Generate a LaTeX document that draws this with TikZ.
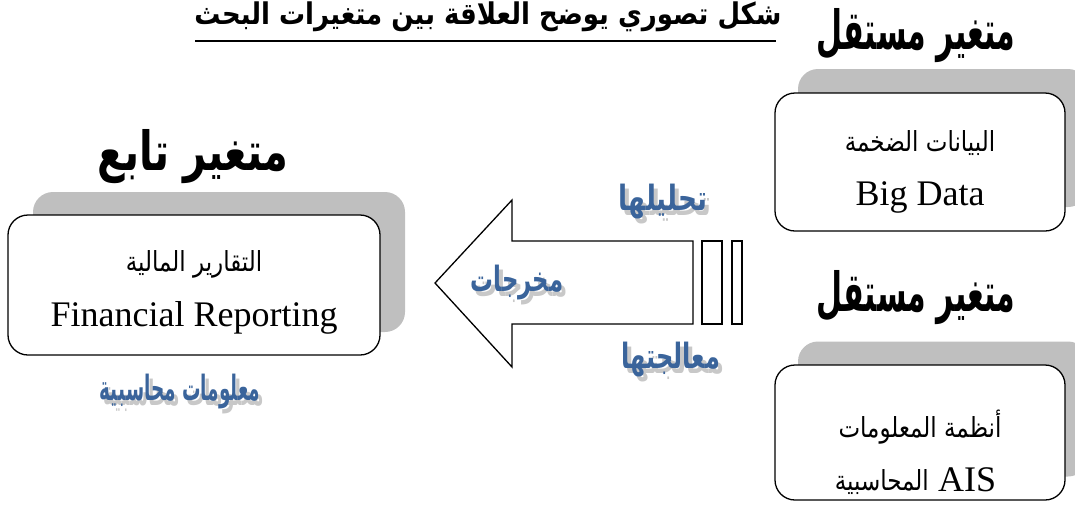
\documentclass[tikz,border=0pt]{standalone}
\usepackage{fontspec}
\usepackage{graphicx}
\setmainfont{Liberation Serif}
\newfontfamily\arabicfont[Script=Arabic]{DejaVu Sans}
\TeXXeTstate=1
\newcommand\artxt[1]{{\arabicfont\beginR #1\endR}}
\definecolor{bluetxt}{RGB}{58,100,155}
\definecolor{shadowgray}{RGB}{191,191,191}
\definecolor{txtshadow}{RGB}{200,200,200}
\tikzset{
  mainbox/.style={draw, line width=1.3pt, rounded corners=20pt, fill=white, inner sep=0pt},
  backbox/.style={fill=shadowgray, rounded corners=20pt, inner sep=0pt},
  heading/.style={font=\arabicfont\bfseries\fontsize{40}{48}\selectfont, inner sep=0pt},
  artext/.style={font=\arabicfont\fontsize{23}{28}\selectfont, inner sep=0pt},
  entext/.style={font=\fontsize{36}{40}\selectfont, inner sep=0pt},
  bluelabel/.style={font=\arabicfont\bfseries\fontsize{24}{28}\selectfont, text=bluetxt, inner sep=0pt},
  greylabel/.style={font=\arabicfont\bfseries\fontsize{24}{28}\selectfont, text=txtshadow, inner sep=0pt},
  outline/.style={draw, line width=1.3pt, fill=white}
}
\begin{document}
\begin{tikzpicture}[x=1pt,y=-1pt]
\useasboundingbox (0,0) rectangle (1075,507);
% title
\node[font=\arabicfont\bfseries\fontsize{26}{30}\selectfont, anchor=base, inner sep=0pt] (title) at (488,24) {\scalebox{1}[1.15]{\artxt{شكل تصوري يوضح العلاقة بين متغيرات البحث}}};
\coordinate (ulA) at (195,41);
\coordinate (ulB) at (776,41);
\draw[line width=2pt] (ulA) -- (ulB);

% right top
\node[heading] (h1) at (916,36) {\scalebox{0.75}[1.35]{\artxt{متغير مستقل}}};
\node[backbox, minimum width=290pt, minimum height=138pt] (bdS) at (943,138) {};
\node[mainbox, minimum width=290pt, minimum height=138pt] (bd) at (920,162) {};
\node[artext] (bd1) at (920,143) {\scalebox{1}[1.2]{\artxt{البيانات الضخمة}}};
\node[entext] (bd2) at (920,197) {Big Data};

% right bottom
\node[heading] (h2) at (916,298) {\scalebox{0.75}[1.35]{\artxt{متغير مستقل}}};
\node[backbox, minimum width=290pt, minimum height=135pt] (aisS) at (943,409) {};
\node[mainbox, minimum width=290pt, minimum height=135pt] (ais) at (920,432.5) {};
\node[artext] (ais1) at (920,427) {\scalebox{1}[1.2]{\artxt{أنظمة المعلومات}}};
\node[artext, anchor=east] (ais2a) at (929,482) {\scalebox{1}[1.2]{\artxt{المحاسبية}}};
\node[entext, anchor=west] (ais2b) at (938,480) {AIS};

% left
\node[heading] (h3) at (193,157) {\scalebox{1}[1.35]{\artxt{متغير تابع}}};
\node[backbox, minimum width=372pt, minimum height=140pt] (frS) at (219,262) {};
\node[mainbox, minimum width=372pt, minimum height=140pt] (fr) at (194,285) {};
\node[artext] (fr1) at (194,264) {\scalebox{1}[1.2]{\artxt{التقارير المالية}}};
\node[entext] (fr2) at (194,318) {Financial Reporting};

\node[greylabel] (maS) at (184,397) {\scalebox{0.77}[1.45]{\artxt{معلومات محاسبية}}};
\node[bluelabel] (ma) at (180,392) {\scalebox{0.77}[1.45]{\artxt{معلومات محاسبية}}};

% arrow
\coordinate (a1) at (693,241);
\coordinate (a2) at (512,241);
\coordinate (a3) at (512,200);
\coordinate (a4) at (435,283);
\coordinate (a5) at (512,367);
\coordinate (a6) at (512,324);
\coordinate (a7) at (693,324);
\draw[outline, line join=miter] (a1) -- (a2) -- (a3) -- (a4) -- (a5) -- (a6) -- (a7) -- cycle;
\draw[outline] (702,241) rectangle (722,324);
\draw[outline] (732,241) rectangle (742,324);

\node[greylabel] (anS) at (667,207) {\scalebox{1.1}[1.45]{\artxt{تحليلها}}};
\node[bluelabel] (an) at (663,202) {\scalebox{1.1}[1.45]{\artxt{تحليلها}}};
\node[greylabel] (outS) at (521,288) {\scalebox{0.95}[1.45]{\artxt{مخرجات}}};
\node[bluelabel] (out) at (517,283) {\scalebox{0.95}[1.45]{\artxt{مخرجات}}};
\node[greylabel] (prS) at (675,365) {\scalebox{1}[1.45]{\artxt{معالجتها}}};
\node[bluelabel] (pr) at (671,360) {\scalebox{1}[1.45]{\artxt{معالجتها}}};
\end{tikzpicture}
\end{document}
